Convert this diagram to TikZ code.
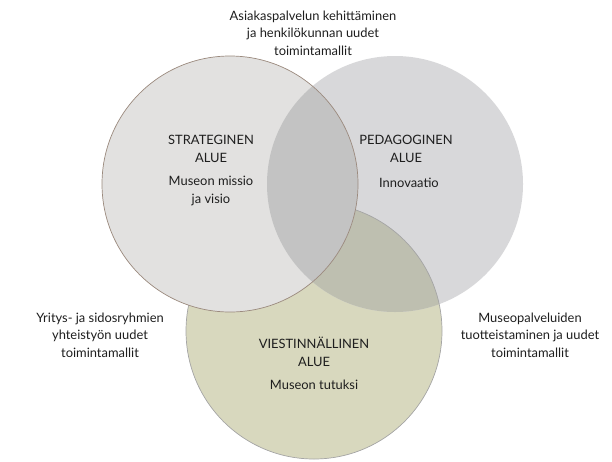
\documentclass[tikz,border=0pt]{standalone}
\usepackage{fontspec}
\setmainfont{Lato}
\definecolor{leftfill}{RGB}{226,225,224}
\definecolor{rightfill}{RGB}{216,216,218}
\definecolor{botfill}{RGB}{216,216,190}
\definecolor{lrfill}{RGB}{195,195,195}
\definecolor{rbfill}{RGB}{190,191,176}
\definecolor{leftedge}{RGB}{155,138,126}
\definecolor{botedge}{RGB}{165,165,165}
\definecolor{ink}{RGB}{30,30,30}
\begin{document}
\begin{tikzpicture}[x=1pt,y=-1pt,
  lbl/.style={align=center,text=ink,font=\fontsize{12.9}{17.4}\selectfont,inner sep=0pt},
  head/.style={lbl}]
\useasboundingbox (0,0) rectangle (612,461);
\def\rr{128}
\coordinate (cl) at (230,184);
\coordinate (cr) at (395,184);
\coordinate (cb) at (314,331);
% bottom circle
\fill[botfill] (cb) circle (\rr);
% right circle, with its overlap on the bottom circle
\fill[rightfill] (cr) circle (\rr);
\begin{scope}
  \clip (cb) circle (\rr);
  \fill[rbfill] (cr) circle (\rr);
\end{scope}
\draw[botedge,line width=0.7pt] (cb) circle (\rr);
% left circle, with its overlap on the right circle
\fill[leftfill] (cl) circle (\rr);
\begin{scope}
  \clip (cl) circle (\rr);
  \fill[lrfill] (cr) circle (\rr);
\end{scope}
\draw[leftedge,line width=0.7pt] (cl) circle (\rr);
% labels inside the circles
\node[head] (sh) at (211,149) {STRATEGINEN\\ALUE};
\node[lbl] (st) at (211,191) {Museon missio\\ja visio};
\node[head] (ph) at (406,149) {PEDAGOGINEN\\ALUE};
\node[lbl] (pt) at (409,183) {Innovaatio};
\node[head] (vh) at (314,352) {VIESTINNÄLLINEN\\ALUE};
\node[lbl] (vt) at (314,385) {Museon tutuksi};
% labels outside the circles
\node[lbl] (top) at (313,33) {Asiakaspalvelun kehittäminen\\ja henkilökunnan uudet\\toimintamallit};
\node[lbl] (lft) at (100,335) {Yritys- ja sidosryhmien\\yhteistyön uudet\\toimintamallit};
\node[lbl] (rgt) at (530,335) {Museopalveluiden\\tuotteistaminen ja uudet\\toimintamallit};
\end{tikzpicture}
\end{document}
